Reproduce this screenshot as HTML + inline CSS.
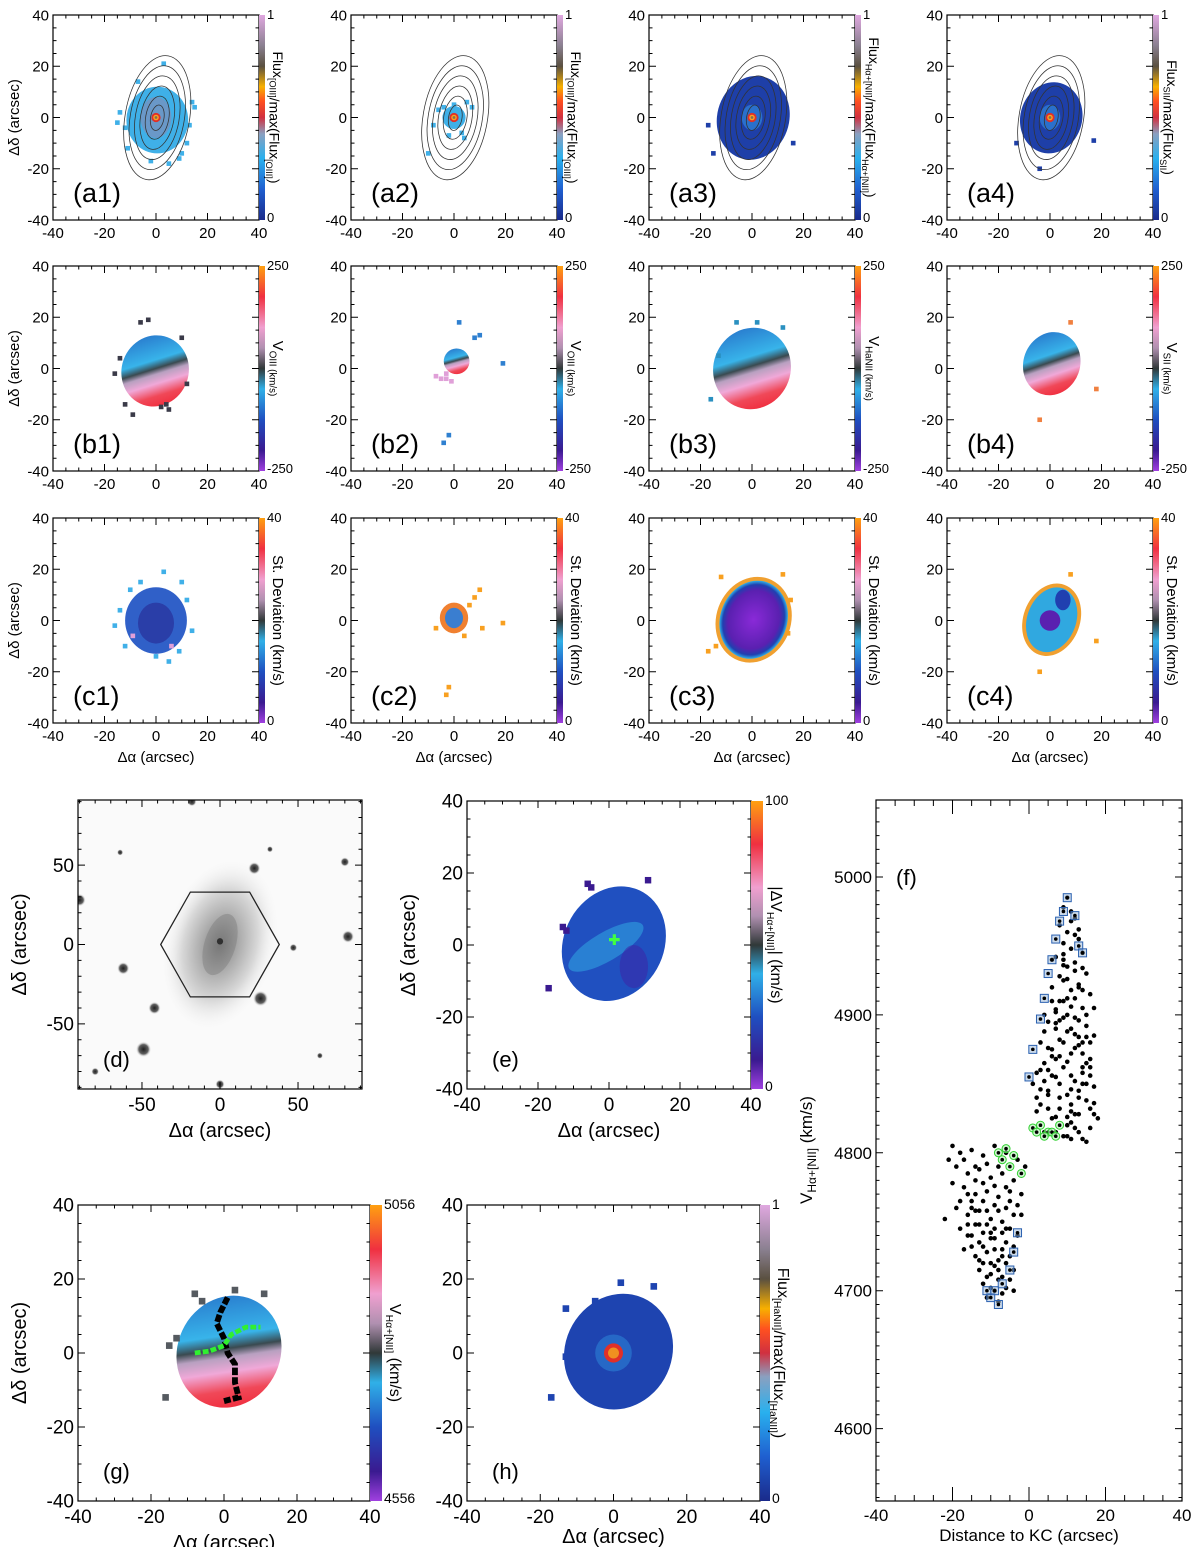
<!DOCTYPE html>
<html><head><meta charset="utf-8">
<style>
html,body{margin:0;padding:0;background:#fff;}
svg{display:block;font-family:"Liberation Sans",Arial,sans-serif;}
</style></head>
<body>
<svg id="fig" width="1200" height="1547" viewBox="0 0 1200 1547" xmlns="http://www.w3.org/2000/svg">
<defs>
<linearGradient id="gFlux" x1="0" y1="1" x2="0" y2="0">
<stop offset="0" stop-color="#1a2a8a"/><stop offset="0.15" stop-color="#1f5fd0"/><stop offset="0.3" stop-color="#29b0ee"/><stop offset="0.42" stop-color="#8aa0c0"/><stop offset="0.5" stop-color="#d03040"/><stop offset="0.58" stop-color="#ff5020"/><stop offset="0.65" stop-color="#f8b000"/><stop offset="0.75" stop-color="#5a5040"/><stop offset="0.85" stop-color="#8a8090"/><stop offset="1" stop-color="#e0a8e0"/>
</linearGradient>
<linearGradient id="gVel" x1="0" y1="1" x2="0" y2="0">
<stop offset="0" stop-color="#a040e0"/><stop offset="0.1" stop-color="#3a1a90"/><stop offset="0.25" stop-color="#1f4fc0"/><stop offset="0.4" stop-color="#30b0e8"/><stop offset="0.5" stop-color="#303838"/><stop offset="0.6" stop-color="#b090b0"/><stop offset="0.7" stop-color="#f0a0d0"/><stop offset="0.85" stop-color="#f03040"/><stop offset="1" stop-color="#ffa010"/>
</linearGradient>
<linearGradient id="gVmap" x1="0.21" y1="0.91" x2="0.79" y2="0.09">
<stop offset="0" stop-color="#2a80d0"/><stop offset="0.35" stop-color="#38b4ea"/><stop offset="0.47" stop-color="#3a4a50"/><stop offset="0.55" stop-color="#b8a0c0"/><stop offset="0.68" stop-color="#f0a8d8"/><stop offset="0.85" stop-color="#f04858"/><stop offset="1" stop-color="#f03040"/>
</linearGradient>
<radialGradient id="gGal" cx="0.5" cy="0.5" r="0.5">
<stop offset="0" stop-color="#707070"/><stop offset="0.3" stop-color="#a8a8a8"/><stop offset="0.65" stop-color="#d8d8d8"/><stop offset="1" stop-color="#f7f7f7" stop-opacity="0"/>
</radialGradient>
<radialGradient id="gStar" cx="0.5" cy="0.5" r="0.5">
<stop offset="0" stop-color="#202020"/><stop offset="0.6" stop-color="#606060"/><stop offset="1" stop-color="#ffffff" stop-opacity="0"/>
</radialGradient>
<radialGradient id="gPurp" cx="0.5" cy="0.5" r="0.5">
<stop offset="0" stop-color="#8a2ad8"/><stop offset="0.75" stop-color="#5a20b0"/><stop offset="0.9" stop-color="#2040b0"/><stop offset="1" stop-color="#30b0e8"/>
</radialGradient>
</defs>
</svg>
<script>
// ---- data for panel (f) ----
const upperX = [10,9,11,12,8,10,13,9,11,14,7,12,10,15,8,13,6,11,16,9,14,7,12,5,15,10,17,8,13,6,11,16,4,9,14,7,12,17,5,10,15,3,8,13,6,11,16,4,9,14,2,18,1,17,3,6,12,10,8,13,11,15,7,9,12,5,14,10,16,2,7,13,4,11,15,
  11,13,9,12,10,14,8,11,13,7,15,9,12,6,10,14,16,8,11,5,13,17,7,10,12,4,15,9,6,14,11,3,16,8,12,5,10,14,2,7,13,9,17,4,11,15,6,12,8,16,3,10,14,7,11,5,13,9];
const upperV = [4985,4978,4975,4970,4965,4960,4955,4952,4948,4945,4942,4938,4935,4930,4928,4922,4920,4918,4915,4910,4905,4902,4898,4895,4892,4888,4885,4882,4878,4875,4872,4868,4865,4862,4858,4855,4852,4848,4845,4842,4838,4835,4832,4828,4825,4822,4818,4815,4812,4810,4830,4825,4850,4905,4880,4940,4912,4900,4870,4845,4835,4865,4890,4925,4958,4860,4880,4820,4832,4858,4815,4815,4900,4890,4850,
  4968,4962,4944,4932,4926,4918,4910,4906,4896,4894,4884,4880,4876,4870,4866,4862,4856,4850,4846,4842,4840,4836,4826,4826,4818,4852,4808,4898,4910,4872,4856,4846,4880,4840,4828,4876,4912,4934,4840,4868,4884,4936,4828,4888,4810,4900,4856,4886,4896,4862,4860,4812,4850,4904,4830,4832,4920,4940];
const lowerX = [-20,-18,-15,-12,-9,-6,-3,-1,-22,-19,-16,-13,-10,-7,-4,-17,-14,-11,-8,-5,-2,-19,-16,-13,-10,-7,-4,-18,-15,-12,-9,-6,-3,-17,-14,-11,-8,-5,-13,-10,-7,-4,-12,-9,-6,-11,-8,-10,-15,-6,-12,-9,-14,-5,-2,-16,-11,-7,-13,-8,
  -21,-17,-14,-11,-8,-5,-18,-15,-12,-9,-6,-3,-20,-16,-13,-10,-7,-4,-15,-12,-9,-6,-14,-11,-8,-5,-13,-10,-7,-12,-9,-6,-16,-11,-8,-4,-10,-7,-14,-9];
const lowerV = [4805,4800,4802,4798,4805,4800,4795,4790,4752,4790,4785,4788,4782,4785,4780,4775,4770,4772,4768,4765,4770,4760,4755,4758,4752,4750,4755,4745,4740,4742,4738,4735,4740,4730,4725,4728,4722,4725,4715,4712,4710,4715,4705,4700,4702,4695,4692,4720,4760,4775,4765,4745,4790,4745,4755,4770,4748,4730,4735,4758,
  4795,4795,4780,4792,4790,4772,4765,4765,4778,4762,4760,4762,4778,4748,4748,4742,4742,4732,4732,4720,4730,4720,4748,4710,4715,4708,4722,4702,4725,4732,4718,4745,4740,4758,4708,4700,4738,4698,4758,4776];
const squareX = [10,9,12,8,7,13,14,6,5,4,3,1,0,-8,-10,-9,-7,-11,-5,-4,-3];
const squareV = [4985,4975,4972,4968,4955,4950,4945,4940,4930,4912,4897,4875,4855,4690,4695,4700,4705,4700,4715,4728,4742];
const circleX = [-8,-6,-4,-7,-5,-2,1,3,5,4,2,6,7,8];
const circleV = [4800,4803,4798,4795,4790,4785,4818,4820,4815,4812,4815,4815,4812,4820];
const fXTicks = [-40,-20,0,20,40];
const fYTicks = [4600,4700,4800,4900,5000];
const mapTicks = [-40,-20,0,20,40];
const dTicks = [-50,0,50];

const NS = 'http://www.w3.org/2000/svg';
const svg = document.getElementById('fig');
function mk(parent, tag, attrs, name) {
  const e = document.createElementNS(NS, tag);
  for (const k in attrs) e.setAttribute(k, attrs[k]);
  
  
  parent.appendChild(e);
  return e;
}

function axes(g, box, xmin, xmax, ymin, ymax, major, minor, fs, showX, showY, xTicks, yTicks) {
  const sx = v => box.x + (v - xmin) / (xmax - xmin) * box.w;
  const sy = v => box.y + (ymax - v) / (ymax - ymin) * box.h;
  let d = '';
  if (showX !== null) for (let v = Math.ceil(xmin / minor) * minor; v <= xmax + 1e-9; v += minor) {
    const L = Math.abs(v / major - Math.round(v / major)) < 1e-6 ? 7 : 3.5;
    const X = sx(v);
    d += `M${X},${box.y + box.h}v${-L}M${X},${box.y}v${L}`;
  }
  for (let v = Math.ceil(ymin / minor) * minor; v <= ymax + 1e-9; v += minor) {
    const L = Math.abs(v / major - Math.round(v / major)) < 1e-6 ? 7 : 3.5;
    const Y = sy(v);
    d += `M${box.x},${Y}h${L}M${box.x + box.w},${Y}h${-L}`;
  }
  mk(g, 'path', {d: d, stroke: '#000', 'stroke-width': 1, fill: 'none'}, 'tick-marks');
  mk(g, 'rect', {x: box.x, y: box.y, width: box.w, height: box.h, fill: 'none', stroke: '#000', 'stroke-width': 1.2}, 'plot-frame');
  if (showX) xTicks.forEach(v => {
    const t = mk(g, 'text', {x: sx(v), y: box.y + box.h + fs + 3, 'font-size': fs, 'text-anchor': 'middle'}, 'x-tick-label');
    t.textContent = v;
  });
  if (showY) yTicks.forEach(v => {
    const t = mk(g, 'text', {x: box.x - 4, y: sy(v) + fs * 0.35, 'font-size': fs, 'text-anchor': 'end'}, 'y-tick-label');
    t.textContent = v;
  });
  return {sx, sy};
}

function colorbar(g, box, grad, top, bot, titleParts, fs, tfs, cbw) {
  const x = box.x + box.w;
  mk(g, 'rect', {x: x, y: box.y, width: cbw, height: box.h, fill: `url(#${grad})`}, 'colorbar');
  let t = mk(g, 'text', {x: x + cbw + 2, y: box.y + 4, 'font-size': fs}, 'colorbar-max-label');
  t.textContent = top;
  t = mk(g, 'text', {x: x + cbw + 2, y: box.y + box.h + 2, 'font-size': fs}, 'colorbar-min-label');
  t.textContent = bot;
  const cx = x + cbw + 8, cy = box.y + box.h / 2;
  const tt = mk(g, 'text', {x: cx, y: cy, 'font-size': tfs, 'text-anchor': 'middle', transform: `rotate(90 ${cx} ${cy})`}, 'colorbar-title');
  titleParts.forEach(p => {
    const s = document.createElementNS(NS, 'tspan');
    s.textContent = p[0];
    if (p[1]) { s.setAttribute('font-size', tfs * 0.65); s.setAttribute('dy', tfs * 0.25); }
    else if (p[2]) { s.setAttribute('dy', -tfs * 0.25); }
    tt.appendChild(s);
  });
}

let clipN = 0;
function content(g, box, range) {
  clipN++;
  const cp = mk(svg.querySelector('defs'), 'clipPath', {id: 'cp' + clipN}, 'clip');
  mk(cp, 'rect', {x: box.x, y: box.y, width: box.w, height: box.h}, 'clip-rect');
  const outer = mk(g, 'g', {'clip-path': `url(#cp${clipN})`}, 'map-image');
  const cx = box.x + box.w / 2, cy = box.y + box.h / 2;
  return mk(outer, 'g', {transform: `translate(${cx},${cy}) scale(${box.w / (2 * range)},${-box.h / (2 * range)})`}, 'map-content');
}

function contours(c) {
  [[12.5,24.5],[10.5,20.5],[8.5,16.5],[6.5,12.5],[4.5,8.5],[2.6,5]].forEach(r => {
    mk(c, 'ellipse', {cx: 0.5, cy: 0, rx: r[0], ry: r[1], transform: 'rotate(-10)', fill: 'none', stroke: '#333', 'stroke-width': 0.3}, 'flux-contour');
  });
}
function core(c, r) {
  mk(c, 'circle', {cx: 0, cy: 0, r: r, fill: '#e03028'}, 'core-red');
  mk(c, 'circle', {cx: 0, cy: 0, r: r * 0.6, fill: '#ffa020'}, 'core-orange');
  mk(c, 'circle', {cx: 0, cy: 0, r: r * 0.3, fill: '#807050'}, 'core-center');
}
function pix(c, list, color) {
  list.forEach(p => mk(c, 'rect', {x: p[0] - 0.9, y: p[1] - 0.9, width: 1.8, height: 1.8, fill: color}, 'spaxel'));
}

const cols = [53, 351, 649, 947];
const rows = [15, 266, 518];
const W = 206, H = 205;
const panelLabels = [['(a1)','(a2)','(a3)','(a4)'],['(b1)','(b2)','(b3)','(b4)'],['(c1)','(c2)','(c3)','(c4)']];
const cbTitles = [
  [[['Flux'],['[OIII]',1],['/max(Flux'],['[OIII]',1],[')',0,1]], [['Flux'],['[OIII]',1],['/max(Flux'],['[OIII]',1],[')',0,1]], [['Flux'],['Hα+[NII]',1],['/max(Flux'],['Hα+[NII]',1],[')',0,1]], [['Flux'],['SII',1],['/max(Flux'],['SII',1],[')',0,1]]],
  [[['V'],['OIII (km/s)',1]], [['V'],['OIII (km/s)',1]], [['V'],['HaNII (km/s)',1]], [['V'],['SII (km/s)',1]]],
  [[['St. Deviation (km/s)']],[['St. Deviation (km/s)']],[['St. Deviation (km/s)']],[['St. Deviation (km/s)']]]
];
for (let r = 0; r < 3; r++) for (let ci = 0; ci < 4; ci++) {
  const box = {x: cols[ci], y: rows[r], w: W, h: H};
  const g = mk(svg, 'g', {}, 'panel-' + panelLabels[r][ci].replace(/[()]/g, ''));
  const c = content(g, box, 40);
  if (r === 0) {
    if (ci === 0) {
      mk(c, 'ellipse', {cx: 0.5, cy: -1, rx: 12, ry: 13, fill: '#3fb0e8'}, 'emission-blob');
      mk(c, 'ellipse', {cx: 0, cy: 0, rx: 6, ry: 8, fill: '#6a98c8'}, 'inner-region');
      pix(c, [[-14,2],[14,6],[15,4],[-12,-4],[9,-16],[5,-18],[-2,-17],[12,-10],[3,21],[-7,14],[10,-14],[-11,-12],[-15,-2],[13,-3]], '#3fb0e8');
    } else if (ci === 1) {
      mk(c, 'ellipse', {cx: 0, cy: 0, rx: 4.5, ry: 4.5, fill: '#3fb0e8'}, 'emission-blob');
      pix(c, [[-8,-3],[-6,3],[-4,4],[5,6],[7,4],[4,-8],[-2,-7],[0,5],[-10,-14],[3,-6]], '#3fb0e8');
    } else {
      const rr = ci === 2 ? [14, 16.5] : [12, 14];
      mk(c, 'ellipse', {cx: 0.5, cy: 0, rx: rr[0], ry: rr[1], transform: 'rotate(-15)', fill: '#1e3fa8'}, 'emission-blob');
      mk(c, 'ellipse', {cx: 0, cy: 0, rx: 4, ry: 5, fill: '#2a70cc'}, 'inner-region');
      pix(c, ci === 2 ? [[-17,-3],[-15,-14],[16,-10]] : [[17,-9],[-4,-20],[-13,-10]], '#1e3fa8');
    }
    contours(c);
    core(c, 1.8);
  } else if (r === 1) {
    const rr = [[13,14],[5,5],[15,16],[11,12.5]][ci];
    const cy0 = [-1,3,0,2][ci];
    mk(c, 'ellipse', {cx: 0, cy: cy0, rx: rr[0], ry: rr[1], transform: 'rotate(-20)', fill: 'url(#gVmap)'}, 'velocity-field');
    if (ci === 0) pix(c, [[-16,-2],[12,-6],[-12,-14],[-9,-18],[5,-16],[10,12],[-6,18],[-3,19],[-14,4],[2,-15],[4,-14]], '#3a3a48');
    if (ci === 1) { pix(c, [[-3,-4],[-5,-4],[-7,-3],[-1,-5],[-3,-2]], '#e0a0d8'); pix(c, [[2,18],[-2,-26],[-4,-29],[19,2],[8,12],[10,13]], '#2f80d0'); }
    if (ci === 2) pix(c, [[-16,-12],[-13,5],[-6,18],[2,18],[12,16]], '#2a90c0');
    if (ci === 3) pix(c, [[18,-8],[-4,-20],[8,18]], '#f08040');
  } else {
    if (ci === 0) {
      mk(c, 'ellipse', {cx: 0, cy: 0, rx: 12, ry: 13, fill: '#3060c8'}, 'dispersion-field');
      mk(c, 'ellipse', {cx: 0, cy: -1, rx: 7, ry: 8, fill: '#2a3ea8'}, 'dispersion-core');
      pix(c, [[-14,4],[12,8],[14,-4],[-12,-10],[5,-16],[-6,15],[3,19],[9,-12],[-10,12],[-16,-2],[10,15],[0,-14]], '#40b0e8');
      pix(c, [[6,-10],[-9,-6]], '#e0a0d8');
    } else if (ci === 1) {
      mk(c, 'ellipse', {cx: 0, cy: 1, rx: 5.5, ry: 6, fill: '#f08030'}, 'dispersion-edge');
      mk(c, 'ellipse', {cx: 0, cy: 1, rx: 3.5, ry: 4, fill: '#3a7ed0'}, 'dispersion-field');
      pix(c, [[8,9],[10,12],[6,6],[-7,-3],[19,-1],[-2,-26],[-3,-29],[11,-3],[4,-6]], '#f8a020');
    } else {
      const rr = ci === 2 ? [13, 15.5] : [9.5, 13];
      mk(c, 'ellipse', {cx: 0.5, cy: 0.5, rx: rr[0] + 1.5, ry: rr[1] + 1.5, transform: 'rotate(-20)', fill: '#f0a030'}, 'dispersion-edge');
      mk(c, 'ellipse', {cx: 0.5, cy: 0.5, rx: rr[0], ry: rr[1], transform: 'rotate(-20)', fill: ci === 2 ? 'url(#gPurp)' : '#30a8e0'}, 'dispersion-field');
      if (ci === 3) { mk(c, 'circle', {cx: 0, cy: 0, r: 4, fill: '#5a20b0'}, 'dispersion-core'); mk(c, 'ellipse', {cx: 5, cy: 8, rx: 3, ry: 4, fill: '#2040b0'}, 'dispersion-patch'); }
      pix(c, ci === 2 ? [[-14,-10],[-17,-12],[15,8],[12,18],[-12,17],[14,-5]] : [[18,-8],[-4,-20],[8,18]], '#f8a020');
    }
  }
  axes(g, box, -40, 40, -40, 40, 20, 5, 15, true, true, mapTicks, mapTicks);
  const lb = mk(g, 'text', {x: box.x + 20, y: box.y + box.h - 18, 'font-size': 27}, 'panel-label');
  lb.textContent = panelLabels[r][ci];
  if (r === 0) colorbar(g, box, 'gFlux', '1', '0', cbTitles[r][ci], 13, 14, 6);
  else if (r === 1) colorbar(g, box, 'gVel', '250', '-250', cbTitles[r][ci], 13, 15, 6);
  else colorbar(g, box, 'gVel', '40', '0', cbTitles[r][ci], 13, 15, 6);
  if (ci === 0) {
    const yx = box.x - 34, yy = box.y + box.h / 2;
    const yt = mk(g, 'text', {x: yx, y: yy, 'font-size': 15, 'text-anchor': 'middle', transform: `rotate(-90 ${yx} ${yy})`}, 'y-axis-title');
    yt.textContent = 'Δδ (arcsec)';
  }
  if (r === 2) {
    const xt = mk(g, 'text', {x: box.x + box.w / 2, y: box.y + box.h + 39, 'font-size': 15, 'text-anchor': 'middle'}, 'x-axis-title');
    xt.textContent = 'Δα (arcsec)';
  }
}

function bigTitles(g, box, ytitle, xtitle, fs) {
  const yx = box.x - 52, yy = box.y + box.h / 2;
  const yt = mk(g, 'text', {x: yx, y: yy, 'font-size': fs, 'text-anchor': 'middle', transform: `rotate(-90 ${yx} ${yy})`}, 'y-axis-title');
  yt.textContent = ytitle;
  const xt = mk(g, 'text', {x: box.x + box.w / 2, y: box.y + box.h + 48, 'font-size': fs, 'text-anchor': 'middle'}, 'x-axis-title');
  xt.textContent = xtitle;
}
function label(g, box, txt) {
  const t = mk(g, 'text', {x: box.x + 25, y: box.y + box.h - 22, 'font-size': 22}, 'panel-label');
  t.textContent = txt;
}

// (d)
{
  const box = {x: 78, y: 800, w: 284, h: 289};
  const g = mk(svg, 'g', {}, 'panel-d');
  mk(g, 'rect', {x: box.x, y: box.y, width: box.w, height: box.h, fill: '#fafafa'}, 'image-background');
  const c = content(g, box, 91);
  mk(c, 'ellipse', {cx: 0, cy: 0, rx: 36, ry: 55, transform: 'rotate(-15)', fill: 'url(#gGal)'}, 'galaxy-image');
  mk(c, 'ellipse', {cx: 0, cy: 0, rx: 10, ry: 20, transform: 'rotate(-18)', fill: '#808080', opacity: 0.5}, 'galaxy-bulge');
  mk(c, 'circle', {cx: 0, cy: 2, r: 2, fill: '#303030'}, 'galaxy-nucleus');
  [[22,48,4],[-62,-15,4],[-42,-40,4],[26,-34,5],[-49,-66,5],[-90,28,4],[-80,-80,2.5],[0,-88,3],[80,52,3],[82,5,4],[-64,58,2],[64,-70,2],[32,60,2],[47,-2,2.5],[-18,90,3]].forEach(s => {
    mk(c, 'circle', {cx: s[0], cy: s[1], r: s[2], fill: 'url(#gStar)'}, 'star');
  });
  mk(c, 'polygon', {points: '-38,0 -19,33 19,33 38,0 19,-33 -19,-33', fill: 'none', stroke: '#222', 'stroke-width': 0.8}, 'ifu-footprint-hexagon');
  axes(g, box, -91, 91, -91, 91, 50, 10, 19, true, true, dTicks, dTicks);
  bigTitles(g, box, 'Δδ (arcsec)', 'Δα (arcsec)', 20);
  label(g, box, '(d)');
}
// (e)
{
  const box = {x: 467, y: 801, w: 284, h: 288};
  const g = mk(svg, 'g', {}, 'panel-e');
  const c = content(g, box, 40);
  mk(c, 'ellipse', {cx: 1, cy: 1, rx: 14, ry: 16.5, transform: 'rotate(-30)', fill: '#2050c0'}, 'velocity-difference-field');
  mk(c, 'ellipse', {cx: 0, cy: -1, rx: 4, ry: 12, transform: 'rotate(-60)', fill: '#30a0e0', opacity: 0.6}, 'high-difference-band');
  mk(c, 'ellipse', {cx: 7, cy: -6, rx: 4, ry: 6, fill: '#3a28a8', opacity: 0.6}, 'low-difference-patch');
  mk(c, 'path', {d: 'M0,1.5h3M1.5,0v3', stroke: '#40ff40', 'stroke-width': 0.9}, 'kinematic-center-marker');
  pix(c, [[-12,4],[-13,5],[-6,17],[-5,16],[-17,-12],[11,18]], '#3a1a90');
  axes(g, box, -40, 40, -40, 40, 20, 5, 19, true, true, mapTicks, mapTicks);
  colorbar(g, box, 'gVel', '100', '0', [['|ΔV'],['Hα+[NII]',1],['| (km/s)',0,1]], 14, 16, 12);
  bigTitles(g, box, 'Δδ (arcsec)', 'Δα (arcsec)', 20);
  label(g, box, '(e)');
}
// (g)
{
  const box = {x: 78, y: 1205, w: 292, h: 296};
  const g = mk(svg, 'g', {}, 'panel-g');
  const c = content(g, box, 40);
  mk(c, 'ellipse', {cx: 1, cy: 1, rx: 14, ry: 15.5, transform: 'rotate(-30)', fill: 'url(#gVmap)'}, 'velocity-field');
  pix(c, [[-13,4],[-15,2],[-16,-12],[-8,16],[-6,14],[3,17],[11,16]], '#555a60');
  mk(c, 'path', {d: 'M1,15 L-1,11 L-2,8 L0,4 L1,0 L3,-3 L3,-8 L4,-12 L0,-13', stroke: '#000', 'stroke-width': 1.6, fill: 'none', 'stroke-dasharray': '2 0.6'}, 'minor-axis-line');
  mk(c, 'path', {d: 'M-8,0 L-4,0.5 L0,2 L2,5 L6,7 L10,7', stroke: '#30f030', 'stroke-width': 1.3, fill: 'none', 'stroke-dasharray': '1.6 0.6'}, 'zero-velocity-line');
  axes(g, box, -40, 40, -40, 40, 20, 5, 19, true, true, mapTicks, mapTicks);
  colorbar(g, box, 'gVel', '5056', '4556', [['V'],['Hα+[NII]',1],[' (km/s)',0,1]], 14, 16, 12);
  bigTitles(g, box, 'Δδ (arcsec)', 'Δα (arcsec)', 20);
  label(g, box, '(g)');
}
// (h)
{
  const box = {x: 467, y: 1205, w: 293, h: 296};
  const g = mk(svg, 'g', {}, 'panel-h');
  const c = content(g, box, 40);
  mk(c, 'ellipse', {cx: 1, cy: 1, rx: 14.5, ry: 16, transform: 'rotate(-30)', fill: '#1e44b0'}, 'flux-field');
  mk(c, 'circle', {cx: 0, cy: 0, r: 5, fill: '#2a78d0', opacity: 0.7}, 'flux-halo');
  mk(c, 'circle', {cx: 0, cy: 0, r: 2.6, fill: '#e03028'}, 'core-red');
  mk(c, 'circle', {cx: 0, cy: 0, r: 1.5, fill: '#f09020'}, 'core-orange');
  pix(c, [[-13,-1],[-17,-12],[-5,14],[-4,12],[2,19],[11,18],[13,-5],[-13,12]], '#1e44b0');
  axes(g, box, -40, 40, -40, 40, 20, 5, 19, true, true, mapTicks, mapTicks);
  colorbar(g, box, 'gFlux', '1', '0', [['Flux'],['[HaNII]',1],['/max(Flux'],['[HaNII]',1],[')',0,1]], 14, 16, 10);
  const xt = mk(g, 'text', {x: box.x + box.w / 2, y: box.y + box.h + 42, 'font-size': 20, 'text-anchor': 'middle'}, 'x-axis-title');
  xt.textContent = 'Δα (arcsec)';
  label(g, box, '(h)');
}
// (f)
{
  const box = {x: 876, y: 800, w: 306, h: 701};
  const g = mk(svg, 'g', {}, 'panel-f');
  const vTop = 5000 + (877 - 800) / 1.379;
  const vBot = vTop - 701 / 1.379;
  const sx = v => box.x + (v + 40) / 80 * box.w;
  const sy = v => box.y + (vTop - v) / (vTop - vBot) * box.h;
  for (let i = 0; i < upperX.length; i++) {
    mk(g, 'circle', {cx: sx(upperX[i]), cy: sy(upperV[i]), r: 2.3, fill: '#000'}, 'spaxel-point-receding');
  }
  for (let i = 0; i < lowerX.length; i++) {
    mk(g, 'circle', {cx: sx(lowerX[i]), cy: sy(lowerV[i]), r: 2.3, fill: '#000'}, 'spaxel-point-approaching');
  }
  for (let i = 0; i < squareX.length; i++) {
    mk(g, 'rect', {x: sx(squareX[i]) - 4, y: sy(squareV[i]) - 4, width: 8, height: 8, fill: '#9ab8d8', 'fill-opacity': 0.5, stroke: '#2a60b0', 'stroke-width': 1}, 'max-velocity-marker');
    mk(g, 'circle', {cx: sx(squareX[i]), cy: sy(squareV[i]), r: 1.8, fill: '#000'}, 'spaxel-point');
  }
  for (let i = 0; i < circleX.length; i++) {
    mk(g, 'circle', {cx: sx(circleX[i]), cy: sy(circleV[i]), r: 4, fill: '#b0f0b0', 'fill-opacity': 0.6, stroke: '#30d030', 'stroke-width': 1}, 'zero-velocity-marker');
    mk(g, 'circle', {cx: sx(circleX[i]), cy: sy(circleV[i]), r: 1.8, fill: '#000'}, 'spaxel-point');
  }
  axes(g, box, -40, 40, vBot, vTop, 100, 10, 17, null, true, fXTicks, fYTicks);
  let d = '';
  for (let v = -40; v <= 40; v += 5) {
    const L = v % 20 === 0 ? 14 : 6;
    d += `M${sx(v)},${box.y + box.h}v${-L}M${sx(v)},${box.y}v${L}`;
  }
  mk(g, 'path', {d: d, stroke: '#000', 'stroke-width': 1}, 'x-tick-marks');
  fXTicks.forEach(v => {
    const t = mk(g, 'text', {x: sx(v), y: box.y + box.h + 20, 'font-size': 17, 'text-anchor': 'middle'}, 'x-tick-label');
    t.textContent = v;
  });
  const xt = mk(g, 'text', {x: box.x + box.w / 2, y: box.y + box.h + 40, 'font-size': 17, 'text-anchor': 'middle'}, 'x-axis-title');
  xt.textContent = 'Distance to KC (arcsec)';
  const yx = 812, yy = 1150;
  const yt = mk(g, 'text', {x: yx, y: yy, 'font-size': 17, 'text-anchor': 'middle', transform: `rotate(-90 ${yx} ${yy})`}, 'y-axis-title');
  const parts = [['V'],['Hα+[NII]',1],[' (km/s)',0,1]];
  parts.forEach(p => {
    const s = document.createElementNS(NS, 'tspan');
    s.textContent = p[0];
    if (p[1]) { s.setAttribute('font-size', 12); s.setAttribute('dy', 4); }
    else if (p[2]) { s.setAttribute('dy', -4); }
    yt.appendChild(s);
  });
  const lb = mk(g, 'text', {x: 896, y: 885, 'font-size': 22}, 'panel-label');
  lb.textContent = '(f)';
}
</script>
</body></html>
